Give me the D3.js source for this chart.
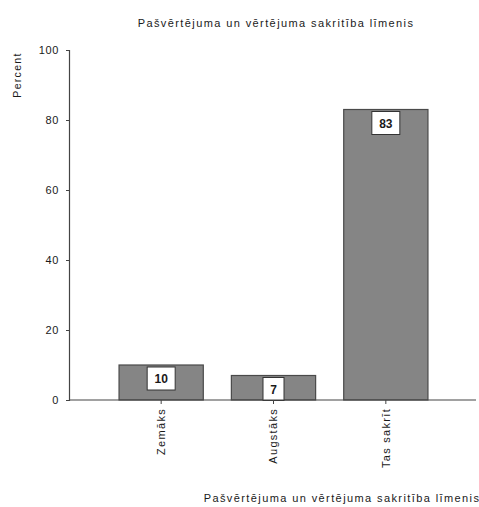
<!DOCTYPE html>
<html>
<head>
<meta charset="utf-8">
<script src="https://cdn.jsdelivr.net/npm/d3@7"></script>
<style>
  body { margin: 0; background: #fff; }
  text { font-family: "Liberation Sans", Arial, sans-serif; fill: #1a1a1a; }
</style>
</head>
<body>
<svg id="chart" width="479" height="507"></svg>
<script>
const categories = ["Zemāks", "Augstāks", "Tas sakrīt"];
const values = [10, 7, 83];
const yTicks = [0, 20, 40, 60, 80, 100];
const title = "Pašvērtējuma un vērtējuma sakritība līmenis";
const xTitle = "Pašvērtējuma un vērtējuma sakritība līmenis";
const yTitle = "Percent";

const svg = d3.select("#chart");
const x0 = 69, x1 = 476, yTop = 50, yBot = 400;

const x = d3.scaleBand().domain(categories).range([105, 442]).paddingInner(0.25).paddingOuter(0.125);
const y = d3.scaleLinear().domain([0, 100]).range([yBot, yTop]);

// title
svg.append("text").attr("x", 276).attr("y", 27).attr("text-anchor", "middle")
  .style("font-size", "11px").style("letter-spacing", "1.4px").text(title);

// y axis
const yAxis = svg.append("g").attr("transform", `translate(${x0},0)`)
  .call(d3.axisLeft(y).tickValues(yTicks).tickSize(3).tickPadding(7));
yAxis.select(".domain").attr("stroke", "#444").attr("stroke-width", 1.2);
yAxis.selectAll(".tick line").attr("stroke", "#444");
yAxis.selectAll("text").style("font-size", "11px").style("fill", "#1a1a1a")
  .style("font-family", "Liberation Sans, Arial, sans-serif").style("letter-spacing", "0.6px");

svg.append("text").attr("transform", `translate(21,75) rotate(-90)`).attr("text-anchor", "middle")
  .style("font-size", "10.5px").style("letter-spacing", "1.3px").text(yTitle);

// bars
const bars = svg.append("g");
bars.selectAll("rect").data(values).join("rect")
  .attr("x", (d, i) => x(categories[i]))
  .attr("y", d => y(d))
  .attr("width", x.bandwidth())
  .attr("height", d => yBot - y(d))
  .attr("fill", "#858585")
  .attr("stroke", "#4a4a4a")
  .attr("stroke-width", 1.2);

// value labels
const lab = svg.append("g");
values.forEach((v, i) => {
  const cx = x(categories[i]) + x.bandwidth() / 2;
  const w = String(v).length > 1 ? 28 : 21;
  const top = y(v) + 2;
  lab.append("rect").attr("x", cx - w / 2).attr("y", top).attr("width", w).attr("height", 23)
    .attr("fill", "#fff").attr("stroke", "#333").attr("stroke-width", 1);
  lab.append("text").attr("x", cx).attr("y", top + 16).attr("text-anchor", "middle")
    .style("font-size", "12px").style("font-weight", "bold").text(v);
});

// x axis
const xAxis = svg.append("g").attr("transform", `translate(0,${yBot})`)
  .call(d3.axisBottom(x).tickSize(4).tickSizeOuter(0));
xAxis.select(".domain").remove();
xAxis.append("line").attr("x1", x0).attr("x2", x1).attr("y1", 0).attr("y2", 0)
  .attr("stroke", "#444").attr("stroke-width", 1.2);
xAxis.selectAll(".tick line").attr("stroke", "#444");
xAxis.selectAll(".tick text")
  .style("font-size", "11px").style("fill", "#1a1a1a").style("font-family", "Liberation Sans, Arial, sans-serif")
  .style("letter-spacing", "1.3px")
  .attr("text-anchor", "end").attr("dy", "0.35em")
  .attr("transform", "translate(0,8) rotate(-90)").attr("x", 0).attr("y", 0);

svg.append("text").attr("x", 342).attr("y", 502).attr("text-anchor", "middle")
  .style("font-size", "11px").style("letter-spacing", "1.4px").text(xTitle);
</script>
</body>
</html>
